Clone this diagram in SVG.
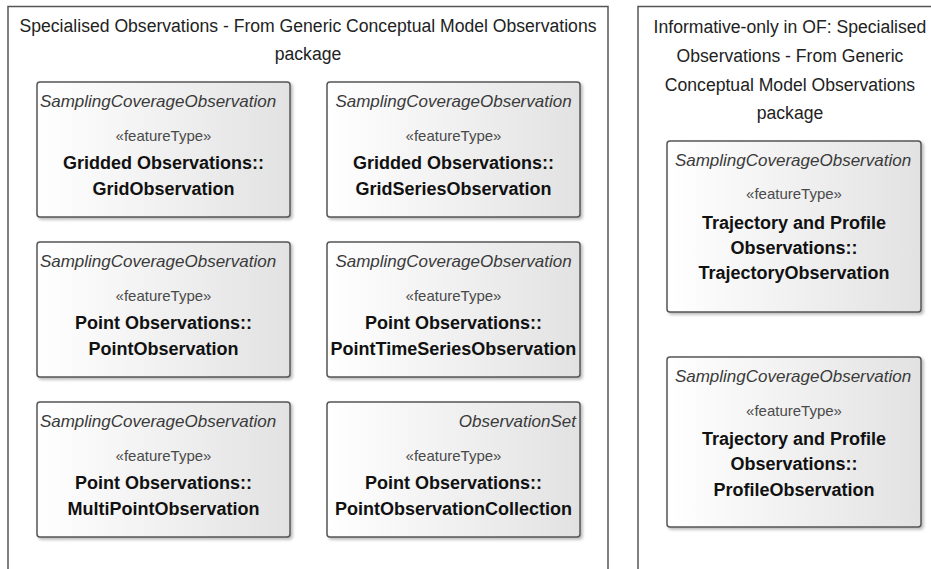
<svg xmlns="http://www.w3.org/2000/svg" width="931" height="569" viewBox="0 0 931 569">
  <defs>
    <linearGradient id="boxFill" x1="0" y1="0" x2="1" y2="0">
      <stop offset="0" stop-color="#ffffff"/>
      <stop offset="1" stop-color="#e2e2e2"/>
    </linearGradient>
    <filter id="shadow" x="-5%" y="-5%" width="115%" height="115%">
      <feDropShadow dx="2" dy="2" stdDeviation="1.5" flood-color="#808080" flood-opacity="0.55"/>
    </filter>
  </defs>
  <style>
    .pkg { fill: #ffffff; stroke: #555555; stroke-width: 1.5; }
    .title { font-family: "Liberation Sans", Arial, sans-serif; font-size: 17.6px; fill: #222222; text-anchor: middle; }
    .box { fill: url(#boxFill); stroke: #555555; stroke-width: 1.5; filter: url(#shadow); }
    .parent { font-family: "Liberation Sans", Arial, sans-serif; font-size: 17px; font-style: italic; fill: #3a3a3a; text-anchor: middle; }
    .stereo { font-family: "Liberation Sans", Arial, sans-serif; font-size: 15px; fill: #4a4a4a; text-anchor: middle; }
    .name { font-family: "Liberation Sans", Arial, sans-serif; font-size: 18px; font-weight: bold; fill: #111111; text-anchor: middle; }
  </style>
  <rect width="931" height="569" fill="#ffffff"/>

  <!-- Packages (open at the bottom / right edge) -->
  <g id="pkg-specialised">
    <path class="pkg" d="M8,575 V6.5 H608 V575"/>
    <text class="title" x="308" y="32">Specialised Observations - From Generic Conceptual Model Observations</text>
    <text class="title" x="308" y="60">package</text>
  </g>
  <g id="pkg-informative">
    <path class="pkg" d="M638,575 V6.5 H940"/>
    <text class="title" x="790" y="33">Informative-only in OF: Specialised</text>
    <text class="title" x="790" y="62">Observations - From Generic</text>
    <text class="title" x="790" y="91">Conceptual Model Observations</text>
    <text class="title" x="790" y="119">package</text>
  </g>

  <!-- Feature types -->
  <g id="GridObservation">
    <rect class="box" x="37" y="82" width="253" height="135" rx="3"/>
    <text class="parent" x="158" y="107">SamplingCoverageObservation</text>
    <text class="stereo" x="163.5" y="141">«featureType»</text>
    <text class="name" x="163.5" y="169">Gridded Observations::</text>
    <text class="name" x="163.5" y="195">GridObservation</text>
  </g>
  <g id="GridSeriesObservation">
    <rect class="box" x="327" y="82" width="253" height="135" rx="3"/>
    <text class="parent" x="453.5" y="107">SamplingCoverageObservation</text>
    <text class="stereo" x="453.5" y="141">«featureType»</text>
    <text class="name" x="453.5" y="169">Gridded Observations::</text>
    <text class="name" x="453.5" y="195">GridSeriesObservation</text>
  </g>
  <g id="PointObservation">
    <rect class="box" x="37" y="242" width="253" height="135" rx="3"/>
    <text class="parent" x="158" y="267">SamplingCoverageObservation</text>
    <text class="stereo" x="163.5" y="301">«featureType»</text>
    <text class="name" x="163.5" y="329">Point Observations::</text>
    <text class="name" x="163.5" y="355">PointObservation</text>
  </g>
  <g id="PointTimeSeriesObservation">
    <rect class="box" x="327" y="242" width="253" height="135" rx="3"/>
    <text class="parent" x="453.5" y="267">SamplingCoverageObservation</text>
    <text class="stereo" x="453.5" y="301">«featureType»</text>
    <text class="name" x="453.5" y="329">Point Observations::</text>
    <text class="name" x="453.5" y="355">PointTimeSeriesObservation</text>
  </g>
  <g id="MultiPointObservation">
    <rect class="box" x="37" y="402" width="253" height="135" rx="3"/>
    <text class="parent" x="158" y="427">SamplingCoverageObservation</text>
    <text class="stereo" x="163.5" y="461">«featureType»</text>
    <text class="name" x="163.5" y="489">Point Observations::</text>
    <text class="name" x="163.5" y="515">MultiPointObservation</text>
  </g>
  <g id="PointObservationCollection">
    <rect class="box" x="327" y="402" width="253" height="135" rx="3"/>
    <text class="parent" x="576" y="427" style="text-anchor:end">ObservationSet</text>
    <text class="stereo" x="453.5" y="461">«featureType»</text>
    <text class="name" x="453.5" y="489">Point Observations::</text>
    <text class="name" x="453.5" y="515">PointObservationCollection</text>
  </g>
  <g id="TrajectoryObservation">
    <rect class="box" x="667" y="141" width="254" height="171" rx="3"/>
    <text class="parent" x="793" y="166">SamplingCoverageObservation</text>
    <text class="stereo" x="794" y="199">«featureType»</text>
    <text class="name" x="794" y="229">Trajectory and Profile</text>
    <text class="name" x="794" y="254">Observations::</text>
    <text class="name" x="794" y="279">TrajectoryObservation</text>
  </g>
  <g id="ProfileObservation">
    <rect class="box" x="667" y="357" width="254" height="170" rx="3"/>
    <text class="parent" x="793" y="382">SamplingCoverageObservation</text>
    <text class="stereo" x="794" y="416">«featureType»</text>
    <text class="name" x="794" y="445">Trajectory and Profile</text>
    <text class="name" x="794" y="470">Observations::</text>
    <text class="name" x="794" y="496">ProfileObservation</text>
  </g>

  <!-- No connectors in this view -->
  <g id="connectors"/>
</svg>
